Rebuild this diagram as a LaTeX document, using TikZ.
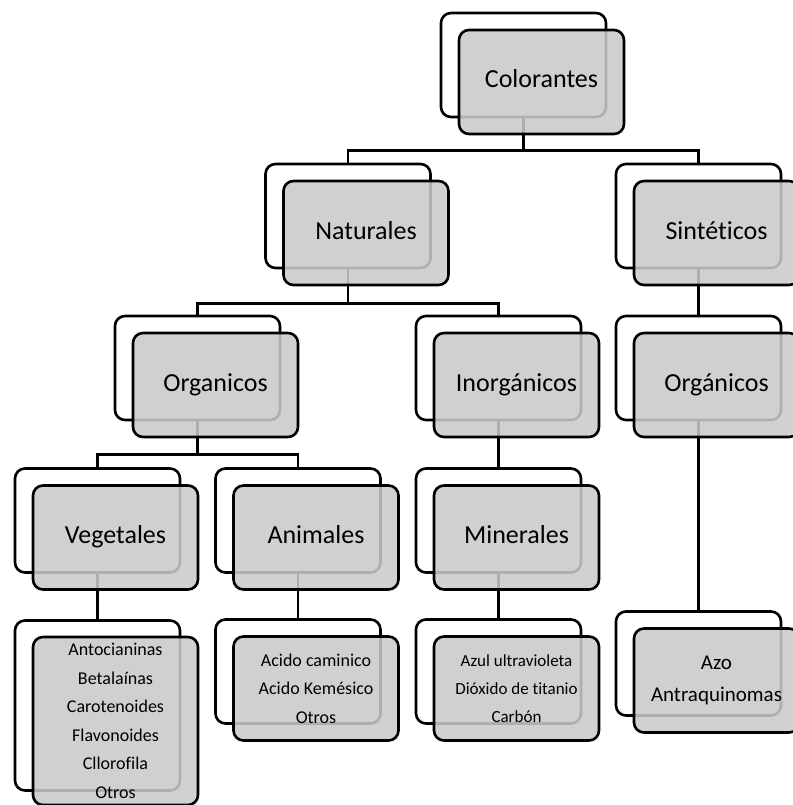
\documentclass[tikz,border=0pt]{standalone}
\usepackage{fontspec}
\setmainfont{Carlito}[Ligatures=NoCommon]
\usetikzlibrary{positioning}
\definecolor{boxgray}{RGB}{202,202,202}
\tikzset{
  backbox/.style={draw=black, line width=2.6pt, rounded corners=10pt, fill=white,
    minimum width=165pt, minimum height=104pt, inner sep=0pt},
  frontbox/.style={draw=black, line width=2.6pt, rounded corners=10pt, fill=boxgray,
    fill opacity=0.87, text opacity=1, minimum width=165pt, minimum height=104pt,
    inner sep=0pt, align=center},
  labelbox/.style={frontbox, font=\fontsize{26}{31}\selectfont, text height=18pt, text depth=6pt},
  listbox/.style={frontbox, font=\fontsize{18}{28.5}\selectfont},
  link/.style={line width=2.6pt}
}

\begin{document}
\begin{tikzpicture}[x=1pt,y=1pt,yscale=-1,xscale=1]
\useasboundingbox (0,0) rectangle (792,805);

%Shape: back boxes
\node[backbox] (colb) at (523.5,65) {};
\node[backbox] (natb) at (348,216) {};
\node[backbox] (sinb) at (698.5,216) {};
\node[backbox] (orgb) at (197.5,368) {};
\node[backbox] (inob) at (498.5,368) {};
\node[backbox] (orgsb) at (698.5,368) {};
\node[backbox] (vegb) at (97.5,520.5) {};
\node[backbox] (anib) at (298,520.5) {};
\node[backbox] (minb) at (498.5,520.5) {};
\node[backbox, minimum height=170pt] (veglb) at (97.5,705.5) {};
\node[backbox] (anilb) at (298,671.5) {};
\node[backbox] (minlb) at (498.5,671.5) {};
\node[backbox] (azob) at (698.5,663.5) {};

%Shape: connectors
\draw[link] (colb.south) -- ++(0,32) -| (natb.north);
\draw[link] (colb.south) -- ++(0,32) -| (sinb.north);
\draw[link] (natb.south) -- ++(0,34) -| (orgb.north);
\draw[link] (natb.south) -- ++(0,34) -| (inob.north);
\draw[link] (sinb.south) -- (orgsb.north);
\draw[link] (orgb.south) -- ++(0,33) -| (vegb.north);
\draw[link] (orgb.south) -- ++(0,33) -| (anib.north);
\draw[link] (inob.south) -- (minb.north);
\draw[link] (orgsb.south) -- (azob.north);
\draw[link] (vegb.south) -- (veglb.north);
\draw[link] (anib.south) -- (anilb.north);
\draw[link] (minb.south) -- (minlb.north);

% Text Node
\node[labelbox] (colorantes) at (541.5,82) {Colorantes};
% Text Node
\node[labelbox] (naturales) at (366,233) {Naturales};
% Text Node
\node[labelbox] (sinteticos) at (716.5,233) {Sintéticos};
% Text Node
\node[labelbox] (organicos) at (215.5,385) {Organicos};
% Text Node
\node[labelbox] (inorganicos) at (516.5,385) {Inorgánicos};
% Text Node
\node[labelbox] (organicosb) at (716.5,385) {Orgánicos};
% Text Node
\node[labelbox] (vegetales) at (115.5,537.5) {Vegetales};
% Text Node
\node[labelbox] (animales) at (316,537.5) {Animales};
% Text Node
\node[labelbox] (minerales) at (516.5,537.5) {Minerales};
% Text Node
\node[listbox, minimum height=168pt] (veglist) at (115.5,721) {Antocianinas\\Betalaínas\\Carotenoides\\Flavonoides\\Cllorofila\\Otros};
% Text Node
\node[listbox] (anilist) at (316,688.5) {Acido caminico\\Acido Kemésico\\Otros};
% Text Node
\node[listbox, font=\fontsize{17}{28}\selectfont] (minlist) at (516.5,688.5) {Azul ultravioleta\\Dióxido de titanio\\Carbón};
% Text Node
\node[frontbox, font=\fontsize{21}{32}\selectfont] (azo) at (716.5,680.5) {Azo\\Antraquinomas};

\end{tikzpicture}
\end{document}
